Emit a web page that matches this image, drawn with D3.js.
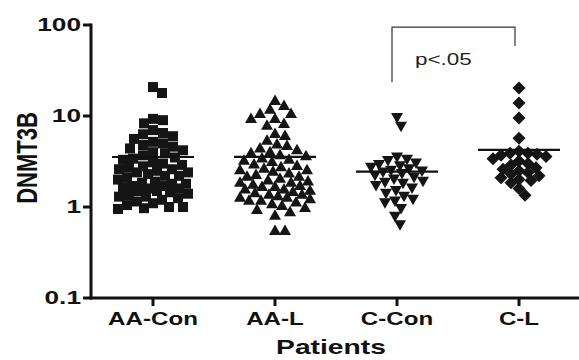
<!DOCTYPE html>
<html>
<head>
<meta charset="utf-8">
<script src="https://cdn.jsdelivr.net/npm/d3@7"></script>
<style>
  body { margin: 0; background: #fff; }
  svg { display: block; font-family: "Liberation Sans", Arial, Helvetica, sans-serif; }
  .bold { font-weight: bold; fill: #111; }
</style>
</head>
<body>
<div id="chart"></div>
<script>
"use strict";

// Data
// -------------------------

var groups = ["AA-Con", "AA-L", "C-Con", "C-L"];

var aaCon = [20.8, 17.9, 9.3, 9.0, 8.3, 7.0, 6.5, 6.3, 6.0, 5.6, 5.2, 5.0,
  4.8, 4.6, 4.4, 4.2, 4.0, 3.9, 3.7, 3.5, 3.4, 3.3, 3.1, 3.0, 2.9, 2.8, 2.7, 2.6,
  2.6, 2.5, 2.4, 2.4, 2.3, 2.2, 2.2, 2.1, 2.0, 1.9, 1.85, 1.8, 1.8, 1.7, 1.7, 1.65, 1.6,
  1.6, 1.5, 1.5, 1.45, 1.4, 1.35, 1.3, 1.3, 1.25, 1.2, 1.15, 1.1, 1.05, 1.0, 1.0, 0.97, 0.95];

var aaL = [15, 13.2, 12, 10.8, 10.8, 9.5, 9.5, 8.4, 8.0, 6.5, 6.2, 5.5,
  5.0, 4.8, 4.5, 4.3, 4.1, 4.0, 3.8, 3.7, 3.5, 3.4, 3.3, 3.2, 3.0, 2.9,
  2.8, 2.7, 2.6, 2.6, 2.5, 2.4, 2.3, 2.2, 2.2, 2.1, 2.0, 1.95, 1.9, 1.9, 1.8, 1.75,
  1.7, 1.7, 1.6, 1.6, 1.55, 1.5, 1.45, 1.4, 1.4, 1.35, 1.3, 1.3, 1.25, 1.2, 1.2,
  1.15, 1.1, 1.05, 1.0, 0.95, 0.9, 0.82, 0.56, 0.56];

var cCon = [9.5, 7.6, 3.5, 3.3, 3.2, 3.0, 2.9, 2.8, 2.7, 2.6, 2.5, 2.45, 2.4, 2.3,
  2.2, 2.1, 2.0, 1.9, 1.85, 1.8, 1.7, 1.6, 1.5, 1.4, 1.3, 1.2, 1.15, 1.1, 0.95, 0.78, 0.63];

var cL = [20.3, 13.9, 9.5, 5.7, 4.1, 3.9, 3.9, 3.8, 3.7, 3.6, 3.4, 3.2, 3.0, 2.9,
  2.7, 2.6, 2.5, 2.4, 2.3, 2.2, 2.1, 2.0, 1.95, 1.85, 1.6, 1.35];

var yTicks = [0.1, 1, 10, 100];
var pLabel = "p<.05";


// Box sizing
// ----------

var width = 579, height = 360, sx = 1.38;

var svg = d3.select("#chart").append("svg")
    .attr("width", width)
    .attr("height", height);

var x = d3.scalePoint().domain(groups).range([153, 519]);
var y = d3.scaleLog().domain([0.1, 100]).range([298, 25]);


// Axes
// ----

svg.append("line")
    .attr("x1", 91).attr("x2", 91)
    .attr("y1", y(100) - 1.5).attr("y2", y(0.1) + 1.5)
    .attr("stroke", "#111").attr("stroke-width", 3);

svg.append("line")
    .attr("x1", 89.5).attr("x2", width)
    .attr("y1", y(0.1)).attr("y2", y(0.1))
    .attr("stroke", "#111").attr("stroke-width", 3);

yTicks.forEach(function(t) {
  svg.append("line")
      .attr("x1", 83).attr("x2", 91)
      .attr("y1", y(t)).attr("y2", y(t))
      .attr("stroke", "#111").attr("stroke-width", 3);
  svg.append("text")
      .attr("class", "bold")
      .attr("text-anchor", "end")
      .attr("font-size", 17.5)
      .attr("transform", "translate(81," + (y(t) + 6.3) + ") scale(1.5,1)")
      .text(t);
});

groups.forEach(function(g) {
  svg.append("line")
      .attr("x1", x(g)).attr("x2", x(g))
      .attr("y1", y(0.1)).attr("y2", y(0.1) + 8)
      .attr("stroke", "#111").attr("stroke-width", 3);
  svg.append("text")
      .attr("class", "bold")
      .attr("text-anchor", "middle")
      .attr("font-size", 17.5)
      .attr("transform", "translate(" + x(g) + ",325) scale(" + sx + ",1)")
      .text(g);
});

svg.append("text")
    .attr("class", "bold")
    .attr("text-anchor", "middle")
    .attr("font-size", 19.5)
    .attr("transform", "translate(331,354) scale(1.45,1)")
    .text("Patients");

svg.append("text")
    .attr("class", "bold")
    .attr("text-anchor", "middle")
    .attr("font-size", 22)
    .attr("transform", "translate(37,158) scale(" + sx + ",1) rotate(-90)")
    .text("DNMT3B");


// Symbols
// -------

var shapes = {
  "AA-Con": "M-5,-5H5V5H-5Z",
  "AA-L":   "M0,-5.5L6,5L-6,5Z",
  "C-Con":  "M0,5.5L6,-5L-6,-5Z",
  "C-L":    "M0,-6.5L6.5,0L0,6.5L-6.5,0Z"
};

var spread = {"AA-Con": 35, "AA-L": 35, "C-Con": 26, "C-L": 32};
var gap = {"AA-Con": 10, "AA-L": 10, "C-Con": 9.5, "C-L": 8.5};


// Simple deterministic beeswarm
// -----------------------------

function swarm(values, cx, maxOff, dist) {
  var placed = [],
      sorted = values.slice().sort(function(a, b) { return b - a; }),
      offs = [0];
  for (var k = 1; k <= maxOff; k++) { offs.push(k, -k); }

  sorted.forEach(function(v) {
    var py = y(v), best = null, bestD = -1;
    for (var i = 0; i < offs.length; i++) {
      var px = cx + offs[i], md = Infinity;
      placed.forEach(function(p) {
        var d = Math.hypot(p.x - px, p.y - py);
        if (d < md) md = d;
      });
      if (md >= dist) { best = px; break; }
      if (md > bestD) { bestD = md; best = px; }
    }
    placed.push({x: best, y: py, v: v});
  });
  return placed;
}

var series = {"AA-Con": aaCon, "AA-L": aaL, "C-Con": cCon, "C-L": cL};

groups.forEach(function(g) {
  var pts = swarm(series[g], x(g), spread[g], gap[g]);

  svg.append("g").selectAll("path")
      .data(pts)
      .join("path")
      .attr("d", shapes[g])
      .attr("transform", function(d) { return "translate(" + d.x + "," + d.y + ")"; })
      .attr("fill", "#151515");

  var m = d3.mean(series[g]);
  svg.append("line")
      .attr("x1", x(g) - 41).attr("x2", x(g) + 41)
      .attr("y1", y(m)).attr("y2", y(m))
      .attr("stroke", "#111").attr("stroke-width", 2.2);
});


// Significance bracket
// --------------------

var bx0 = x("C-Con") - 5, bx1 = x("C-L") - 4;

svg.append("path")
    .attr("d", "M" + bx0 + "," + y(23.6) + "V" + y(95) + "H" + bx1 + "V" + y(58.8))
    .attr("fill", "none")
    .attr("stroke", "#333")
    .attr("stroke-width", 1.2);

svg.append("text")
    .attr("font-size", 17)
    .attr("fill", "#222")
    .attr("transform", "translate(415,65) scale(1.32,1)")
    .text(pLabel);

</script>
</body>
</html>
